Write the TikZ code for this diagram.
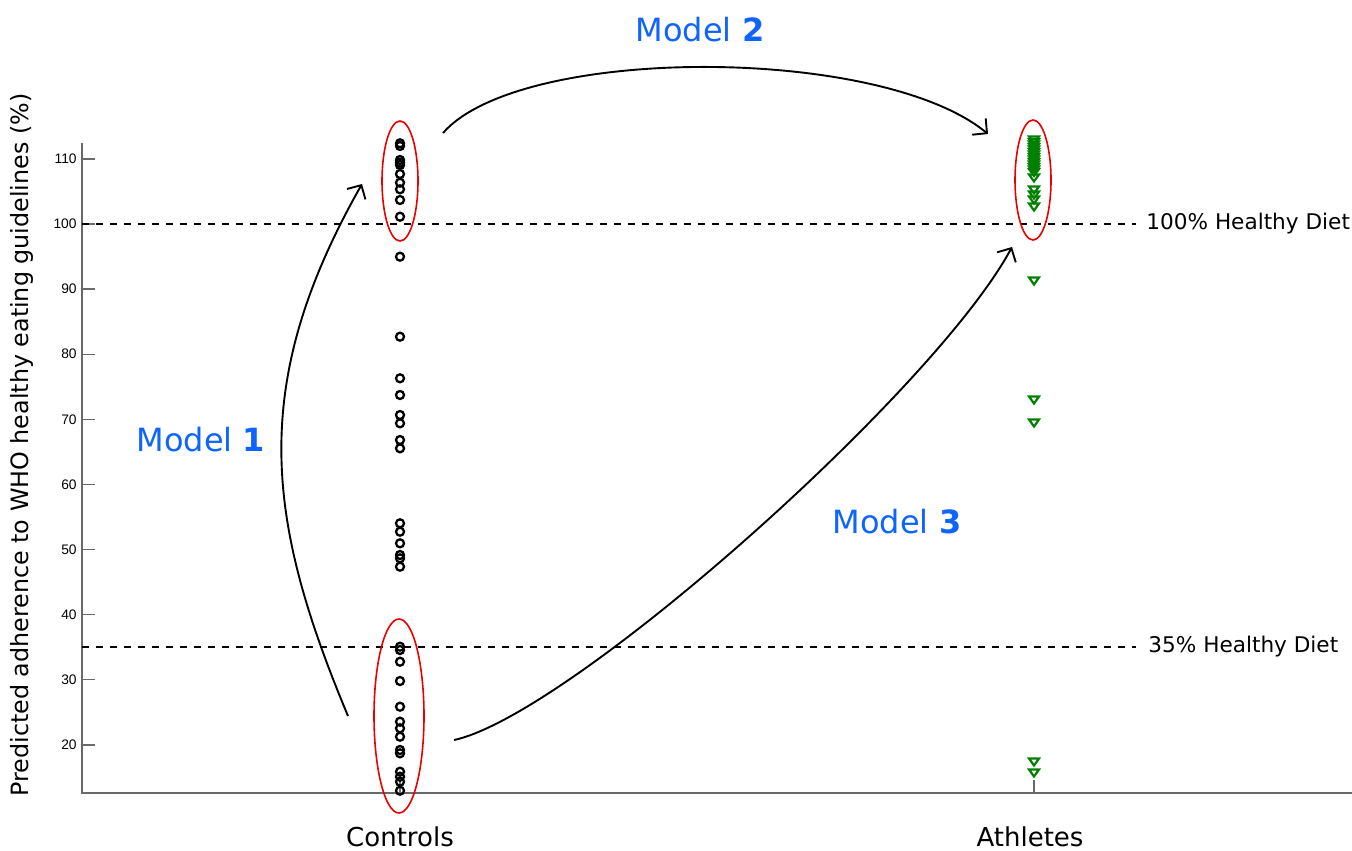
\documentclass[tikz,border=0pt]{standalone}
\usepackage{fontspec}
\setmainfont{DejaVu Sans}
\newfontfamily\tickfont{Liberation Sans}
\usetikzlibrary{arrows.meta,shapes.geometric}
\definecolor{modelblue}{RGB}{15,100,255}
\definecolor{ptgreen}{RGB}{0,128,0}
\definecolor{axisgray}{RGB}{105,105,105}
\definecolor{ringred}{RGB}{235,0,0}
\begin{document}
\begin{tikzpicture}[x=0.5pt,y=-0.5pt,
  axisline/.style={draw=axisgray,line width=0.7pt},
  refline/.style={draw=black,dash pattern=on 3.5pt off 3.5pt,line width=0.65pt},
  ctrl/.style={circle,draw=black,line width=1.15pt,minimum size=4pt,inner sep=0pt},
  tri/.style={draw=ptgreen,line width=1.1pt,line join=miter},
  ring/.style={ellipse,draw=ringred,line width=0.8pt,inner sep=0pt},
  model/.style={text=modelblue,font=\fontsize{16}{19}\selectfont},
  flow/.style={draw=black,line width=0.95pt,-{Straight Barb[length=5.2pt,width=10.6pt,line width=0.95pt]}},
  ticklabel/.style={font=\fontsize{6.9}{8}\tickfont,anchor=east,inner sep=0pt},
  grouplabel/.style={font=\fontsize{13}{15}\selectfont},
  reflabel/.style={font=\fontsize{10.8}{13}\selectfont,anchor=west,inner sep=0pt}]
\useasboundingbox (0,0) rectangle (1352,850);
% axes
\draw[axisline] (82,143) -- (82,793) -- (1352,793);
\foreach \v in {20,30,...,110}{
  \pgfmathsetmacro\yy{224+(100-\v)*6.51}
  \draw[axisline] (82,\yy) -- (95,\yy);
  \node[ticklabel] (t\v) at (77,\yy) {\v};
}
\draw[axisline] (400,793) -- (400,780);
\draw[axisline] (1034,793) -- (1034,780);
\node[rotate=90,font=\fontsize{11.9}{14}\selectfont] (ylab) at (22,445) {Predicted adherence to WHO healthy eating guidelines (\%)};
\node[grouplabel] (controls) at (400,837) {Controls};
\node[grouplabel] (athletes) at (1030,837) {Athletes};
% reference lines
\draw[refline] (82,224) -- (1136,224);
\draw[refline] (82,647) -- (1136,647);
\node[reflabel] (r100) at (1146,224) {100\% Healthy Diet};
\node[reflabel] (r35) at (1148,647) {35\% Healthy Diet};
% controls
\foreach \t [count=\i] in {143.3,146,160,162.7,165,174,182.7,189.3,200,216.7,256.7,336.7,378.3,395,415,423.3,440,448.3,523.3,531.7,543.3,555,558.3,566.7,646.7,650,661.7,681,706.7,721.7,728.3,736.7,750,753.3,771.7,776.7,781.7,790.7}
  \node[ctrl] (c\i) at (400,\t) {};
% athletes
\foreach \t in {140,142.5,...,172.5,178,190,195,200,207,281,400,423,762,773}
  \draw[tri] (1034,\t) ++(-5,-3.5) -- ++(10,0) -- ++(-5,7) -- cycle;
% rings
\node[ring,minimum width=18pt,minimum height=60pt] (upper) at (400,181) {};
\node[ring,minimum width=25pt,minimum height=97pt] (lower) at (399,716) {};
\node[ring,minimum width=18pt,minimum height=60pt] (ath) at (1033,180) {};
% arrows
\coordinate (m1s) at (348,716);
\coordinate (m1e) at (362,184);
\coordinate (m2s) at (443,133);
\coordinate (m2e) at (988,134);
\coordinate (m3s) at (454,740);
\coordinate (m3e) at (1012,247);
\draw[flow] (m1s) .. controls (266,520) and (248,385) .. (m1e);
\draw[flow] (m2s) .. controls (520,45) and (880,45) .. (m2e);
\draw[flow] (m3s) .. controls (570,715) and (935,390) .. (m3e);
\node[model] (model1) at (201,440) {Model \textbf{1}};
\node[model] (model2) at (700,30) {Model \textbf{2}};
\node[model] (model3) at (897,522) {Model \textbf{3}};
\end{tikzpicture}
\end{document}
